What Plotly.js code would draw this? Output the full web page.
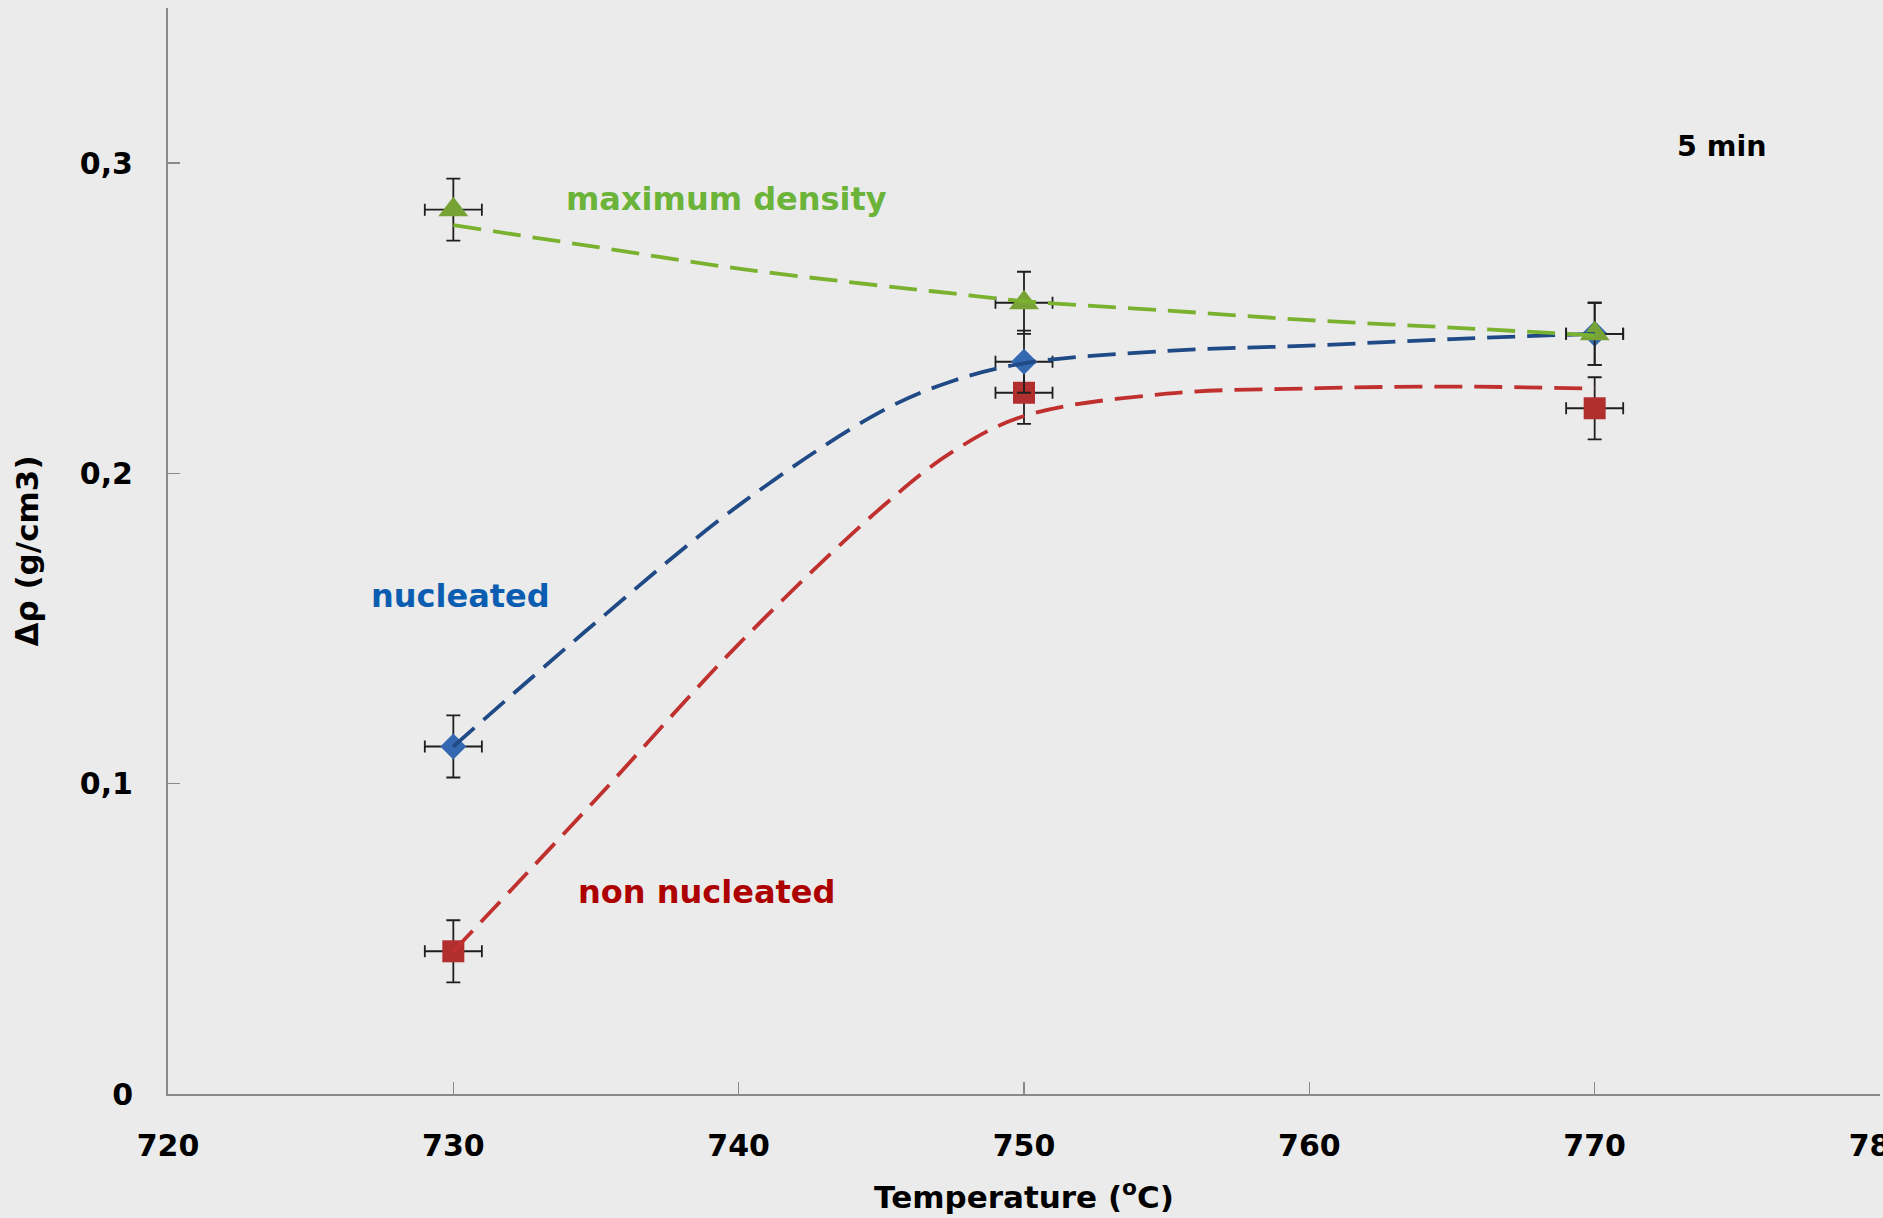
<!DOCTYPE html>
<html>
<head>
<meta charset="utf-8">
<script src="https://cdn.plot.ly/plotly-3.0.1.min.js"></script>
<style>
  html, body { margin: 0; padding: 0; background: #ebebeb; }
  #chart { width: 1883px; height: 1218px; }
</style>
</head>
<body>
<div id="chart"></div>
<script>
// Measured points
const temps = [730, 750, 770];
const maxDensity = [0.285, 0.255, 0.245];
const nucleated = [0.112, 0.236, 0.245];
const nonNucleated = [0.046, 0.226, 0.221];
const errY = [0.01, 0.01, 0.01];
const errX = [1, 1, 1];

// Smoothed trend curves
const curveT = [730, 735, 740, 745, 747.5, 750, 755, 760, 765, 770];
const curveMax = [0.280, 0.273, 0.266, 0.2605, 0.258, 0.2555, 0.2525, 0.2494, 0.247, 0.2445];
const curveNuc = [0.112, 0.152, 0.1897, 0.220, 0.2298, 0.2355, 0.2395, 0.2412, 0.2433, 0.245];
const curveNon = [0.046, 0.095, 0.145, 0.189, 0.207, 0.2185, 0.2257, 0.2274, 0.228, 0.2273];

const xTicks = [720, 730, 740, 750, 760, 770, 780];
const yTicks = [0, 0.1, 0.2, 0.3];
const yTickText = ['0', '0,1', '0,2', '0,3'];

const FONT = 'DejaVu Sans';
const errStyleY = {type: 'data', array: errY, visible: true, color: '#1e1e1e', thickness: 1.8, width: 7};
const errStyleX = {type: 'data', array: errX, visible: true, color: '#1e1e1e', thickness: 1.8, width: 6};

function pts(y, symbol, size, color) {
  return {
    x: temps, y: y, type: 'scatter', mode: 'markers',
    marker: {symbol: symbol, size: size, color: color, line: {width: 0}},
    error_y: errStyleY, error_x: errStyleX,
    hoverinfo: 'skip', showlegend: false
  };
}
function curve(y, color) {
  return {
    x: curveT, y: y, type: 'scatter', mode: 'lines',
    line: {shape: 'spline', smoothing: 1, color: color, width: 3.8, dash: '28px,12px'},
    hoverinfo: 'skip', showlegend: false
  };
}

const data = [
  pts(nonNucleated, 'square', 22, '#b22f2f'),
  pts(nucleated, 'diamond', 20, '#3468b0'),
  pts(maxDensity, 'triangle-up', 26, '#77a235'),
  curve(curveNon, '#c0302f'),
  curve(curveNuc, '#1f4a85'),
  curve(curveMax, '#7ab230')
];

const layout = {
  width: 1883, height: 1218,
  margin: {l: 168, r: 3, t: 8, b: 124},
  paper_bgcolor: '#ebebeb', plot_bgcolor: '#ebebeb',
  showlegend: false,
  font: {family: FONT, size: 30, color: '#000', weight: 'bold'},
  xaxis: {
    range: [720, 780], tickvals: xTicks, ticktext: xTicks.map(String),
    showgrid: false, zeroline: false,
    showline: true, linecolor: '#8a8a8a', linewidth: 2,
    ticks: 'inside', ticklen: 12, tickwidth: 1.5, tickcolor: '#8a8a8a',
    ticklabelstandoff: 24, ticklabeloverflow: 'allow',
    tickfont: {family: FONT, size: 30, color: '#000', weight: 'bold'},
    title: {text: 'Temperature (<sup>o</sup>C)', standoff: 24,
            font: {family: FONT, size: 31, color: '#000', weight: 'bold'}}
  },
  yaxis: {
    range: [0, 0.35], tickvals: yTicks, ticktext: yTickText,
    showgrid: false, zeroline: false,
    showline: true, linecolor: '#8a8a8a', linewidth: 2,
    ticks: 'inside', ticklen: 12, tickwidth: 1.5, tickcolor: '#8a8a8a',
    ticklabelstandoff: 27,
    tickfont: {family: FONT, size: 30, color: '#000', weight: 'bold'},
    title: {text: 'Δρ (g/cm3)', standoff: 32,
            font: {family: FONT, size: 31, color: '#000', weight: 'bold'}}
  },
  annotations: [
    {x: 739.56, y: 0.2883, xref: 'x', yref: 'y', text: 'maximum density', showarrow: false,
     font: {family: FONT, size: 32, color: '#6cb33a', weight: 'bold'}},
    {x: 730.25, y: 0.1606, xref: 'x', yref: 'y', text: 'nucleated', showarrow: false,
     font: {family: FONT, size: 32, color: '#0a5db0', weight: 'bold'}},
    {x: 738.86, y: 0.0651, xref: 'x', yref: 'y', text: 'non nucleated', showarrow: false,
     font: {family: FONT, size: 32, color: '#ad0000', weight: 'bold'}},
    {x: 774.47, y: 0.3054, xref: 'x', yref: 'y', text: '5 min', showarrow: false,
     font: {family: FONT, size: 28.5, color: '#000', weight: 'bold'}}
  ]
};

Plotly.newPlot('chart', data, layout, {staticPlot: true, displayModeBar: false});
</script>
</body>
</html>
